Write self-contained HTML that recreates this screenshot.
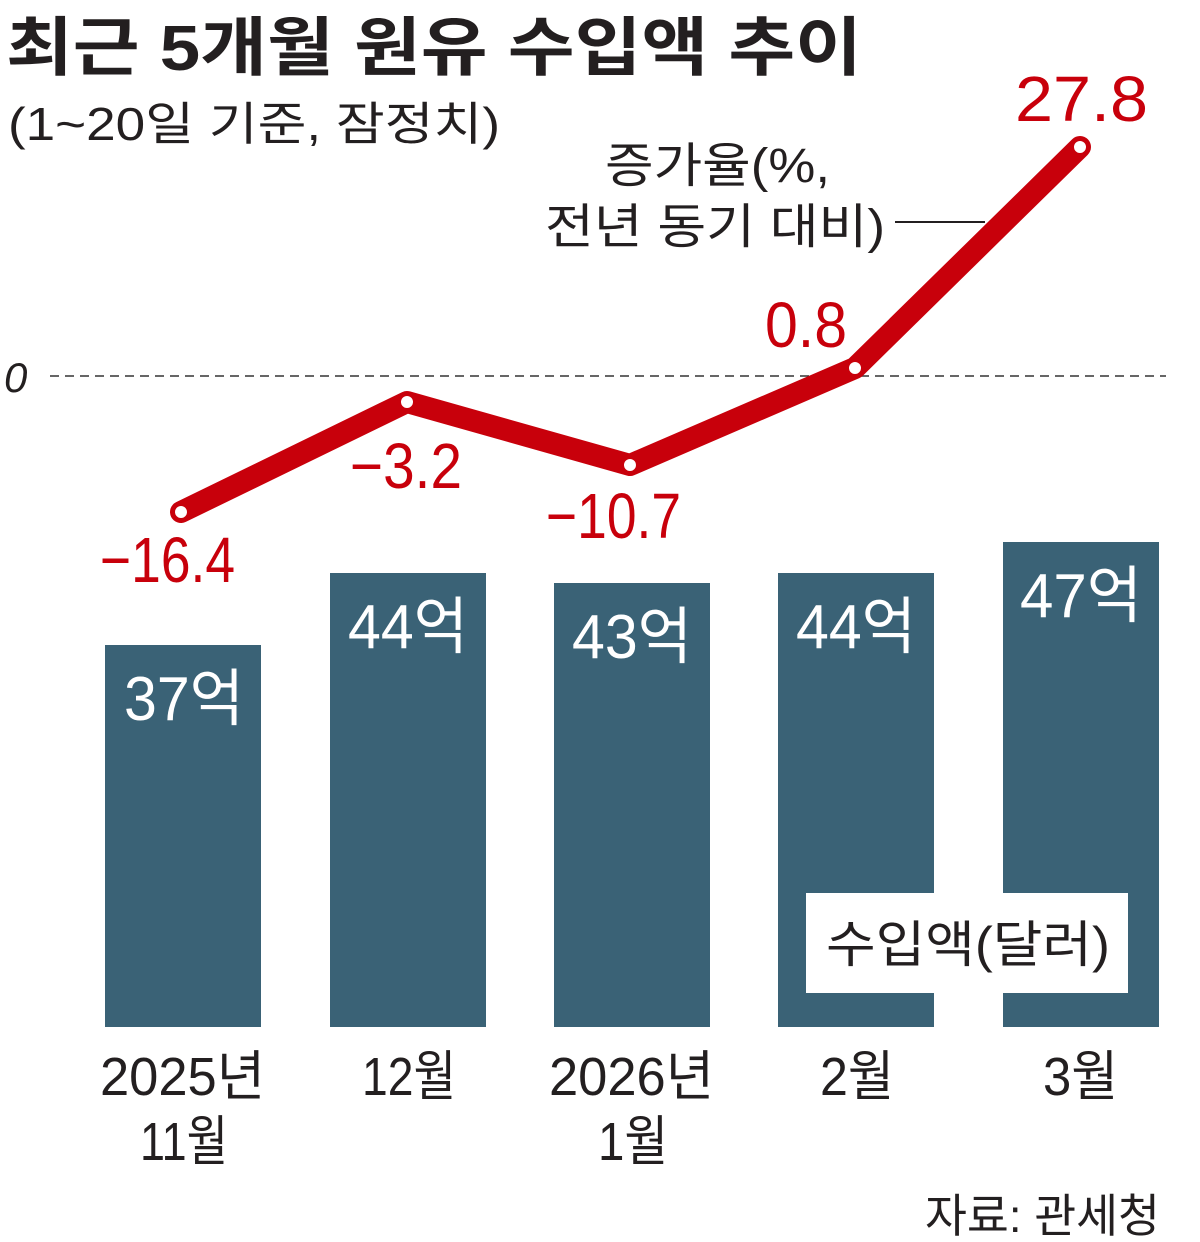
<!DOCTYPE html>
<html><head><meta charset="utf-8"><style>
html,body{margin:0;padding:0;background:#fff;}
svg{display:block;font-family:"Liberation Sans","Noto Sans CJK KR",sans-serif;}
</style></head><body>
<svg width="1200" height="1242" viewBox="0 0 1200 1242" xmlns="http://www.w3.org/2000/svg">
<text x="6" y="70" font-size="64" font-weight="bold" fill="#231f20" textLength="856" lengthAdjust="spacingAndGlyphs">최근 5개월 원유 수입액 추이</text>
<text x="8" y="140" font-size="46" fill="#231f20" textLength="492" lengthAdjust="spacingAndGlyphs">(1~20일 기준, 잠정치)</text>
<g fill="#3a6276">
<rect x="105" y="645" width="156" height="382"/>
<rect x="330" y="573" width="156" height="454"/>
<rect x="554" y="583" width="156" height="444"/>
<rect x="778" y="573" width="156" height="454"/>
<rect x="1003" y="542" width="156" height="485"/>
</g>
<line x1="50" y1="376" x2="1166" y2="376" stroke="#333" stroke-width="1.5" stroke-dasharray="9,6"/>
<text x="4" y="392" font-size="42" font-style="italic" fill="#231f20">0</text>
<polyline points="181,512 407,402 630,465 855,368 1080,147" fill="none" stroke="#c8000b" stroke-width="22" stroke-linejoin="round" stroke-linecap="round"/>
<g fill="#fff" stroke="#c8000b" stroke-width="4">
<circle cx="181" cy="512" r="8"/><circle cx="407" cy="402" r="8"/><circle cx="630" cy="465" r="8"/><circle cx="855" cy="368" r="8"/><circle cx="1080" cy="147" r="8"/>
</g>
<g fill="#c8000b" font-size="64" lengthAdjust="spacingAndGlyphs">
<text x="100" y="582" textLength="135" lengthAdjust="spacingAndGlyphs">−16.4</text>
<text x="350" y="488" textLength="112" lengthAdjust="spacingAndGlyphs">−3.2</text>
<text x="546" y="538" textLength="135" lengthAdjust="spacingAndGlyphs">−10.7</text>
<text x="765" y="347" textLength="82" lengthAdjust="spacingAndGlyphs">0.8</text>
<text x="1015" y="121" textLength="133" lengthAdjust="spacingAndGlyphs">27.8</text>
</g>
<g fill="#fff" font-size="62">
<text x="124" y="720" textLength="120" lengthAdjust="spacingAndGlyphs">37억</text>
<text x="348" y="648" textLength="120" lengthAdjust="spacingAndGlyphs">44억</text>
<text x="572" y="658" textLength="120" lengthAdjust="spacingAndGlyphs">43억</text>
<text x="796" y="648" textLength="120" lengthAdjust="spacingAndGlyphs">44억</text>
<text x="1020" y="617" textLength="122" lengthAdjust="spacingAndGlyphs">47억</text>
</g>
<g fill="#231f20" font-size="48">
<text x="605" y="182" textLength="225" lengthAdjust="spacingAndGlyphs">증가율(%,</text>
<text x="545" y="243" textLength="340" lengthAdjust="spacingAndGlyphs">전년 동기 대비)</text>
</g>
<line x1="895" y1="222" x2="985" y2="222" stroke="#231f20" stroke-width="2"/>
<rect x="806" y="893" width="322" height="100" fill="#fff"/>
<text x="826" y="962" font-size="50" fill="#231f20" textLength="284" lengthAdjust="spacingAndGlyphs">수입액(달러)</text>
<g fill="#231f20" font-size="54">
<text x="100" y="1095" textLength="165" lengthAdjust="spacingAndGlyphs">2025년</text>
<text x="140" y="1160" textLength="88" lengthAdjust="spacingAndGlyphs">11월</text>
<text x="362" y="1095" textLength="94" lengthAdjust="spacingAndGlyphs">12월</text>
<text x="549" y="1095" textLength="165" lengthAdjust="spacingAndGlyphs">2026년</text>
<text x="598" y="1160" textLength="70" lengthAdjust="spacingAndGlyphs">1월</text>
<text x="820" y="1095" textLength="74" lengthAdjust="spacingAndGlyphs">2월</text>
<text x="1043" y="1095" textLength="75" lengthAdjust="spacingAndGlyphs">3월</text>
</g>
<text x="925" y="1232" font-size="46" fill="#231f20" textLength="235" lengthAdjust="spacingAndGlyphs">자료: 관세청</text>
</svg>
</body></html>
